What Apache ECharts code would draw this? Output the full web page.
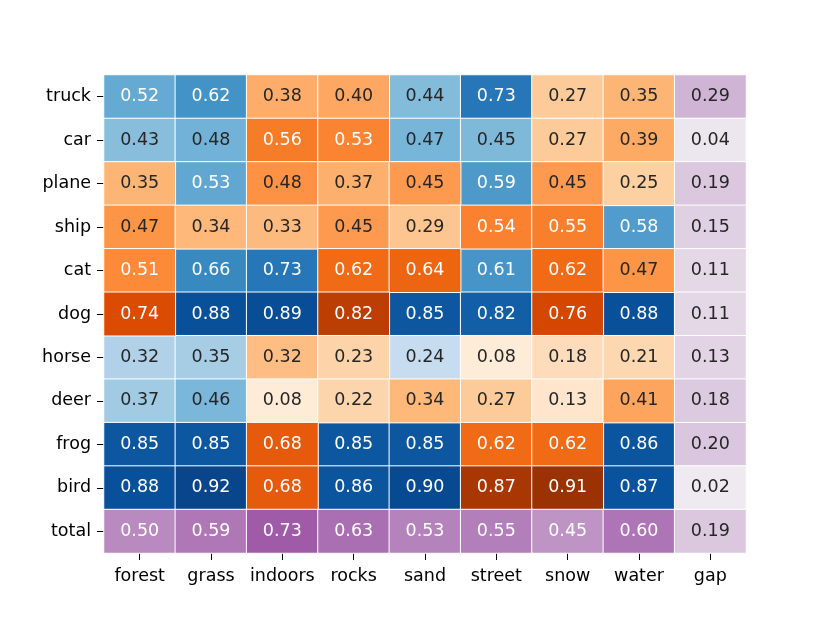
<!DOCTYPE html>
<html>
<head>
<meta charset="utf-8">
<script src="https://cdn.jsdelivr.net/npm/echarts@6/dist/echarts.min.js"></script>
<style>html,body{margin:0;padding:0;background:#fff}#c{width:830px;height:623px}</style>
</head>
<body>
<div id="c"></div>
<script>
var columns = ['forest','grass','indoors','rocks','sand','street','snow','water','gap'];
var rows = ['truck','car','plane','ship','cat','dog','horse','deer','frog','bird','total'];
var truck = [0.52,0.62,0.38,0.40,0.44,0.73,0.27,0.35,0.29];
var car   = [0.43,0.48,0.56,0.53,0.47,0.45,0.27,0.39,0.04];
var plane = [0.35,0.53,0.48,0.37,0.45,0.59,0.45,0.25,0.19];
var ship  = [0.47,0.34,0.33,0.45,0.29,0.54,0.55,0.58,0.15];
var cat   = [0.51,0.66,0.73,0.62,0.64,0.61,0.62,0.47,0.11];
var dog   = [0.74,0.88,0.89,0.82,0.85,0.82,0.76,0.88,0.11];
var horse = [0.32,0.35,0.32,0.23,0.24,0.08,0.18,0.21,0.13];
var deer  = [0.37,0.46,0.08,0.22,0.34,0.27,0.13,0.41,0.18];
var frog  = [0.85,0.85,0.68,0.85,0.85,0.62,0.62,0.86,0.20];
var bird  = [0.88,0.92,0.68,0.86,0.90,0.87,0.91,0.87,0.02];
var total = [0.50,0.59,0.73,0.63,0.53,0.55,0.45,0.60,0.19];
// colour family per cell: B = blue, O = orange, P = purple
var families = [
  'BBOOBBOOP','BBOOBBOOP','OBOOOBOOP','OOOOOOOBP','OBBOOBOOP',
  'OBBOBBOBP','BBOOBOOOP','BBOOOOOOP','BBOBBOOBP','BBOBBOOBP','PPPPPPPPP'
];
var matrix = [truck,car,plane,ship,cat,dog,horse,deer,frog,bird,total];

var blues = ['#f7fbff','#deebf7','#c6dbef','#9ecae1','#6baed6','#4292c6','#2171b5','#08519c','#08306b'];
var oranges = ['#fff5eb','#fee6ce','#fdd0a2','#fdae6b','#fd8d3c','#f16913','#d94801','#a63603','#7f2704'];
var purples = ['#f0eef2','#81258d'];

var dataB = [], dataO = [], dataP = [];
for (var r = 0; r < rows.length; r++) {
  for (var c = 0; c < columns.length; c++) {
    var v = matrix[r][c], f = families[r][c];
    var thr = f === 'P' ? 0.4 : 0.5;
    var item = {value: [c, r, v], label: {color: v >= thr ? '#ffffff' : '#262626'}};
    if (f === 'B') dataB.push(item); else if (f === 'O') dataO.push(item); else dataP.push(item);
  }
}

function series(name, data) {
  return {
    name: name, type: 'heatmap', data: data,
    label: {show: true, fontFamily: 'DejaVu Sans', fontSize: 17.5,
      formatter: function (p) { return p.value[2].toFixed(2); }},
    itemStyle: {borderColor: '#ffffff', borderWidth: 1},
    emphasis: {disabled: true}
  };
}

var chart = echarts.init(document.getElementById('c'), null, {renderer: 'canvas'});
chart.setOption({
  animation: false,
  backgroundColor: '#ffffff',
  grid: {left: 104, right: 84, top: 75, bottom: 70},
  xAxis: {
    type: 'category', data: columns,
    axisLine: {show: false},
    axisTick: {show: true, length: 7, alignWithLabel: true, interval: 0, lineStyle: {color: '#000', width: 1}},
    axisLabel: {color: '#000', fontFamily: 'DejaVu Sans', fontSize: 17.5, margin: 14, interval: 0},
    splitArea: {show: false}
  },
  yAxis: {
    type: 'category', data: rows, inverse: true,
    axisLine: {show: false},
    axisTick: {show: true, length: 7, alignWithLabel: true, interval: 0, lineStyle: {color: '#000', width: 1}},
    axisLabel: {color: '#000', fontFamily: 'DejaVu Sans', fontSize: 17.5, margin: 13, interval: 0, padding: [3, 0, 0, 0]},
    splitArea: {show: false}
  },
  visualMap: [
    {type: 'continuous', show: false, seriesIndex: 0, dimension: 2, min: 0, max: 1, inRange: {color: blues}},
    {type: 'continuous', show: false, seriesIndex: 1, dimension: 2, min: 0, max: 1, inRange: {color: oranges}},
    {type: 'continuous', show: false, seriesIndex: 2, dimension: 2, min: 0, max: 1, inRange: {color: purples}}
  ],
  series: [series('blue', dataB), series('orange', dataO), series('purple', dataP)]
});
</script>
</body>
</html>
